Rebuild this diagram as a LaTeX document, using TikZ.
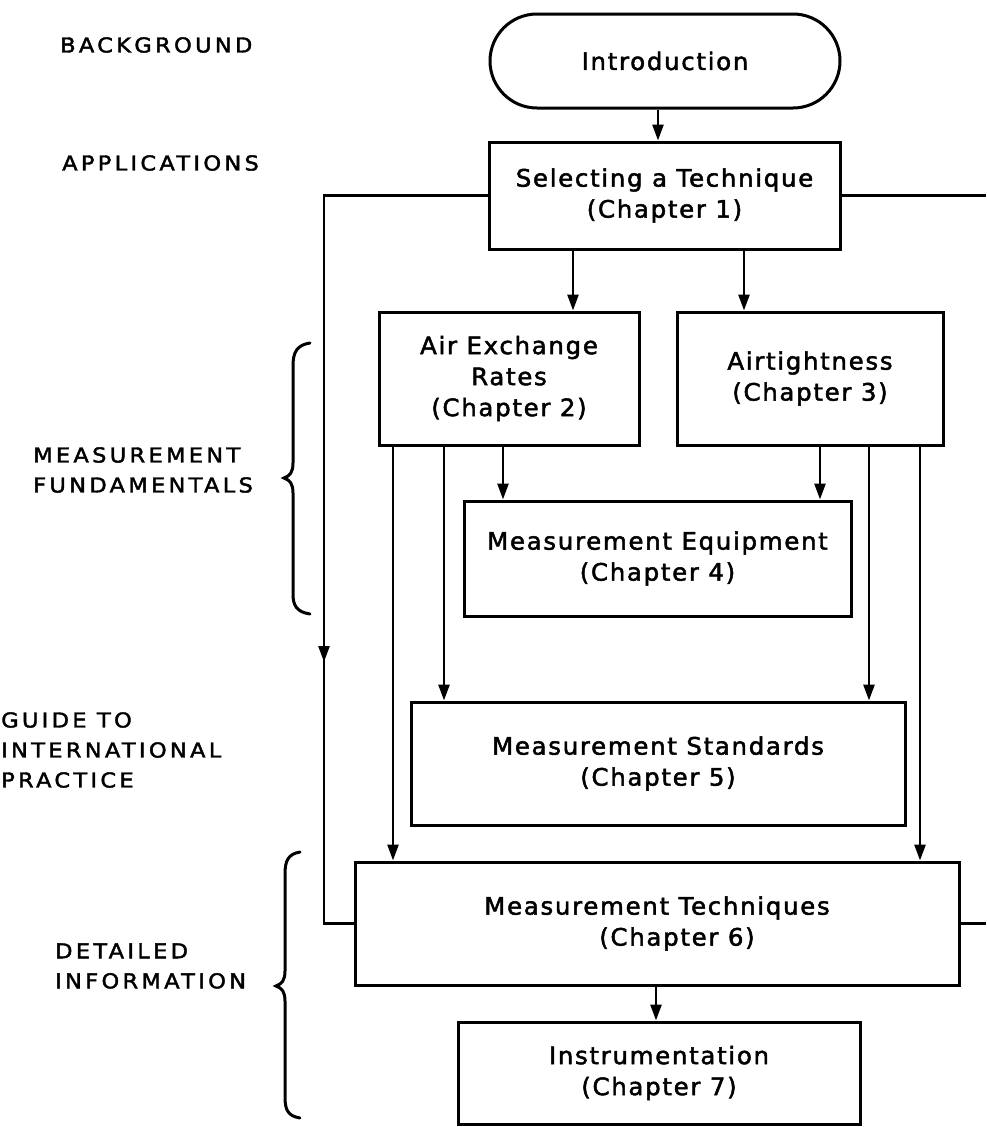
\documentclass[tikz,border=0pt]{standalone}
\usepackage{fontspec}
\newfontfamily\boxfont{DejaVu Sans}[FakeStretch=1.02,LetterSpace=7,FakeBold=2]
\newfontfamily\labfont{DejaVu Sans}[FakeStretch=1.1,LetterSpace=16,FakeBold=2]
\usetikzlibrary{arrows.meta}
\begin{document}
\begin{tikzpicture}[x=1pt,y=-1pt,
  box/.style={draw, line width=3pt, rectangle, inner sep=0pt, align=center,
    font=\boxfont\fontsize{24}{31}\selectfont},
  lab/.style={anchor=west, inner sep=0pt, align=left,
    font=\labfont\fontsize{20.5}{30}\selectfont},
  conn/.style={line width=2.8pt},
  arr/.style={line width=2.6pt, -{Triangle[length=16pt,width=11pt]}},
  brace/.style={line width=3pt, line cap=round}]
\useasboundingbox (0,0) rectangle (986,1127);

% boxes
\node[box, rounded corners=47pt, minimum width=350pt, minimum height=94pt] (intro) at (665,61) {Introduction};
\node[box, minimum width=351pt, minimum height=107pt] (sel) at (664.5,195.5) {Selecting a Technique\\(Chapter 1)};
\node[box, minimum width=260pt, minimum height=133pt] (ae) at (509,378.5) {Air Exchange\\Rates\\(Chapter 2)};
\node[box, minimum width=266pt, minimum height=133pt] (at) at (810,378.5) {Airtightness\\(Chapter 3)};
\node[box, minimum width=387pt, minimum height=115pt] (me) at (657.5,558.5) {Measurement Equipment\\(Chapter 4)};
\node[box, minimum width=494pt, minimum height=123pt] (ms) at (658,763.5) {Measurement Standards\\(Chapter 5)};
\node[box, minimum width=604pt, minimum height=123pt] (mt) at (657,923.5) {Measurement Techniques\\\hspace*{40pt}(Chapter 6)};
\node[box, minimum width=402pt, minimum height=102pt] (ins) at (659,1073) {Instrumentation\\(Chapter 7)};

% labels
\node[lab] (lbg) at (60,45) {BACKGROUND};
\node[lab] (lap) at (62,163) {APPLICATIONS};
\node[lab] (lmf) at (33,470) {MEASUREMENT\\FUNDAMENTALS};
\node[lab] (lgi) at (1,750) {GUIDE TO\\INTERNATIONAL\\PRACTICE};
\node[lab] (ldi) at (55,966) {DETAILED\\INFORMATION};

% column coordinates
\coordinate (cI) at (658,0);
\coordinate (cS1) at (573,0);
\coordinate (cS2) at (744,0);
\coordinate (a1) at (393,0);
\coordinate (a2) at (444,0);
\coordinate (a3) at (503,0);
\coordinate (b1) at (820,0);
\coordinate (b2) at (869,0);
\coordinate (b3) at (920,0);
\coordinate (cM) at (656,0);
\coordinate (L) at (324,0);
\coordinate (Lm) at (324,662);
\coordinate (R) at (986,0);

% connectors
\draw[arr] (intro.south -| cI) -- (sel.north -| cI);
\draw[arr] (sel.south -| cS1) -- (ae.north -| cS1);
\draw[arr] (sel.south -| cS2) -- (at.north -| cS2);
\draw[arr] (ae.south -| a1) -- (mt.north -| a1);
\draw[arr] (ae.south -| a2) -- (ms.north -| a2);
\draw[arr] (ae.south -| a3) -- (me.north -| a3);
\draw[arr] (at.south -| b1) -- (me.north -| b1);
\draw[arr] (at.south -| b2) -- (ms.north -| b2);
\draw[arr] (at.south -| b3) -- (mt.north -| b3);
\draw[arr] (mt.south -| cM) -- (ins.north -| cM);

% left loop
\draw[conn] (sel.west) -- (sel.west -| L) -- (mt.west -| L) -- (mt.west);
\draw[arr] (sel.west -| L) -- (Lm);
% right lines (loop runs off the page)
\draw[conn] (sel.east) -- (sel.east -| R);
\draw[conn] (mt.east) -- (mt.east -| R);

% braces
\draw[brace] (310,343) .. controls (297,345) and (293,352) .. (293,366) -- (293,463)
  .. controls (293,472) and (290,476) .. (284,478)
  .. controls (290,480) and (293,484) .. (293,493) -- (293,594)
  .. controls (293,606) and (297,612) .. (310,614);
\draw[brace] (300,852) .. controls (288,854) and (285,861) .. (285,874) -- (285,971)
  .. controls (285,980) and (282,984) .. (276,986)
  .. controls (282,988) and (285,992) .. (285,1001) -- (285,1097)
  .. controls (285,1110) and (288,1116) .. (300,1118);
\end{tikzpicture}
\end{document}
